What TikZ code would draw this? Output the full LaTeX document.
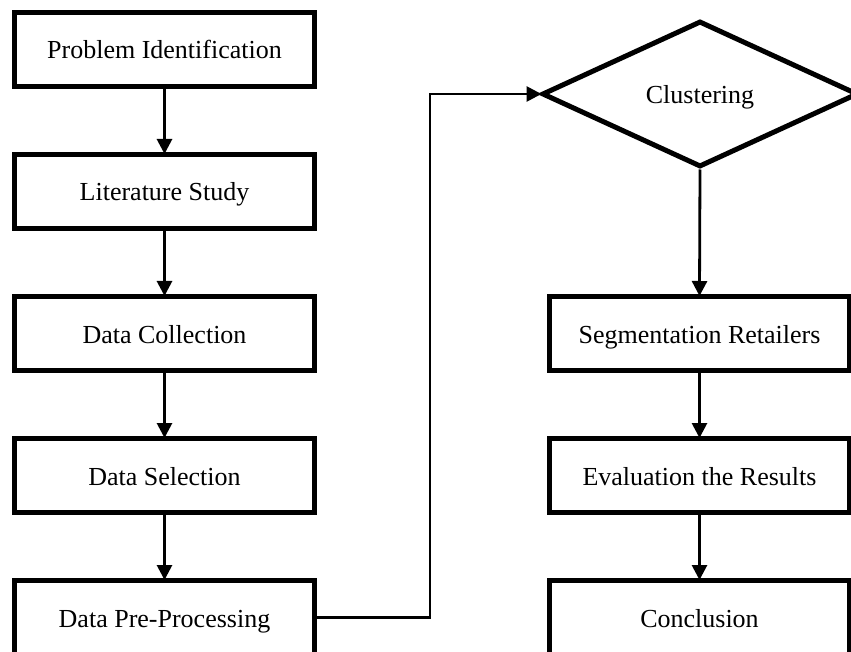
\documentclass[tikz,border=0pt]{standalone}
\usepackage{fontspec}
\setmainfont{Liberation Serif}
\usetikzlibrary{shapes.geometric, arrows.meta}

\tikzset{
  stepbox/.style={draw, line width=5pt, minimum width=300pt, minimum height=74pt,
    inner sep=0pt, text height=19pt, text depth=0pt, font=\fontsize{26}{30}\selectfont},
  decision/.style={diamond, draw, line width=5pt, minimum width=316pt, minimum height=146pt,
    inner sep=0pt, text height=19pt, text depth=0pt, font=\fontsize{26}{30}\selectfont},
  flow/.style={line width=2.8pt, shorten >=-2pt, -{Triangle[length=15pt,width=15pt]}}
}

\begin{document}
\begin{tikzpicture}[x=1pt,y=-1pt]
  \useasboundingbox (0,0) rectangle (851,652);
  \clip (0,0) rectangle (851,652);

  % Left column
  \node[stepbox] (prob) at (164.5,49.5) {Problem Identification};
  \node[stepbox] (lit) at (164.5,191.5) {Literature Study};
  \node[stepbox] (coll) at (164.5,333.5) {Data Collection};
  \node[stepbox] (sel) at (164.5,475.5) {Data Selection};
  \node[stepbox] (pre) at (164.5,617.5) {Data Pre-Processing};

  % Right column
  \node[decision] (clus) at (700,94) {Clustering};
  \node[stepbox] (seg) at (699.5,333.5) {Segmentation Retailers};
  \node[stepbox] (eval) at (699.5,475.5) {Evaluation the Results};
  \node[stepbox] (conc) at (699.5,617.5) {Conclusion};

  % Draw arrows
  \draw[flow] (prob) -- (lit);
  \draw[flow] (lit) -- (coll);
  \draw[flow] (coll) -- (sel);
  \draw[flow] (sel) -- (pre);
  \coordinate (bend) at (430,617.5);
  \draw[flow] (pre.east) -- (bend) |- (clus.west);
  \draw[flow] (clus.south) -- (seg.north);
  \draw[flow] (seg) -- (eval);
  \draw[flow] (eval) -- (conc);

\end{tikzpicture}
\end{document}
